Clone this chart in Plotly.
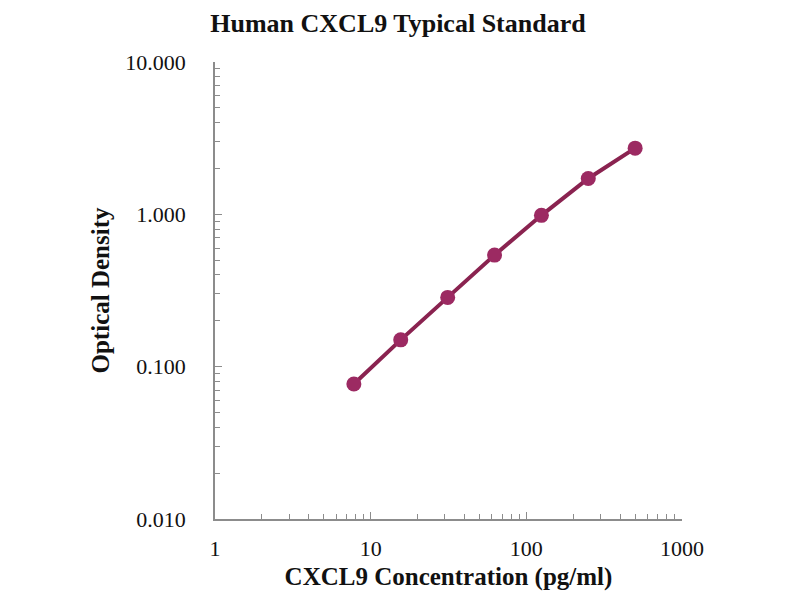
import plotly.graph_objects as go

# standard curve readings
conc = [7.8, 15.6, 31.25, 62.5, 125, 250, 500]
od = [0.077, 0.150, 0.285, 0.540, 0.985, 1.72, 2.72]

TITLE = "Human CXCL9 Typical Standard"
X_TITLE = "CXCL9 Concentration (pg/ml)"
Y_TITLE = "Optical Density"
Y_TICKS = [0.01, 0.1, 1, 10]
Y_TICK_TEXT = ["0.010", "0.100", "1.000", "10.000"]
X_TICKS = [1, 10, 100, 1000]
X_TICK_TEXT = ["1", "10", "100", "1000"]

FONT = "Liberation Serif, Times New Roman, serif"
AXIS_GREY = "#8c8c8c"
LINE_COLOR = "#8a2350"
MARKER_COLOR = "#9c2a62"


def minor_vals(decades):
    # 2..9 inside every decade
    return [m * 10 ** d for d in decades for m in range(2, 10)]


fig = go.Figure()
fig.add_trace(go.Scatter(
    x=conc, y=od, mode="lines",
    line=dict(color=LINE_COLOR, width=4),
    showlegend=False, hoverinfo="skip",
))
fig.add_trace(go.Scatter(
    x=conc, y=od, mode="markers",
    marker=dict(size=15, color=MARKER_COLOR),
    showlegend=False,
))

axis_common = dict(
    type="log", automargin=False,
    showline=True, linecolor=AXIS_GREY, linewidth=1.5,
    ticks="inside", ticklen=7, tickcolor=AXIS_GREY, tickwidth=1.2,
    showgrid=False, zeroline=False,
    tickfont=dict(family=FONT, size=22, color="#111111"),
)

# page body adds an 8px offset, so the figure is sized 792x592
fig.update_layout(
    width=792, height=592,
    paper_bgcolor="white", plot_bgcolor="white",
    margin=dict(l=207, r=118, t=54, b=81),
    title=dict(text=f"<b>{TITLE}</b>", x=0.4924, xanchor="center", y=0.9745, yanchor="middle",
               font=dict(family=FONT, size=26, color="#111111")),
    xaxis=dict(
        **axis_common,
        range=[0, 3],
        tickvals=X_TICKS, ticktext=X_TICK_TEXT,
        minor=dict(tickvals=minor_vals([0, 1, 2]), ticks="inside", ticklen=5,
                   tickcolor=AXIS_GREY, tickwidth=1.2, showgrid=False),
        ticklabelstandoff=9,
        title=dict(text=f"<b>{X_TITLE}</b>", font=dict(family=FONT, size=25, color="#111111"), standoff=7),
    ),
    yaxis=dict(
        **axis_common,
        range=[-2, 1],
        tickvals=Y_TICKS, ticktext=Y_TICK_TEXT,
        minor=dict(tickvals=minor_vals([-2, -1, 0]), ticks="inside", ticklen=5,
                   tickcolor=AXIS_GREY, tickwidth=1.2, showgrid=False),
        ticklabelstandoff=23,
        title=dict(text=f"<b>{Y_TITLE}</b>", font=dict(family=FONT, size=25, color="#111111"), standoff=9),
    ),
)

fig.write_html("out.html")
